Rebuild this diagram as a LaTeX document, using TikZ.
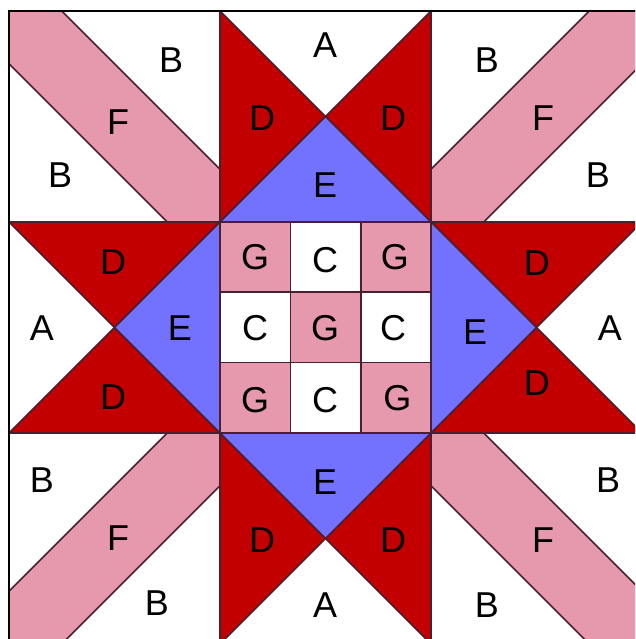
\documentclass[tikz,border=0pt]{standalone}
\usepackage{fontspec}
\setmainfont{Liberation Sans}
\usepackage{tikz}
\definecolor{QuiltRed}{HTML}{C20000}
\definecolor{QuiltBlue}{HTML}{7272FF}
\definecolor{QuiltPink}{HTML}{E698AC}
\definecolor{QuiltEdge}{HTML}{4A2030}

\begin{document}
\begin{tikzpicture}[x=2cm,y=-2cm]
  \tikzstyle{piece}=[draw=QuiltEdge,line width=0.45pt,line join=round]
  \tikzstyle{red}=[piece,fill=QuiltRed]
  \tikzstyle{blue}=[piece,fill=QuiltBlue]
  \tikzstyle{pink}=[piece,fill=QuiltPink]
  \tikzstyle{lbl}=[inner sep=0pt,text=black,
    font=\fontsize{9.7}{11}\selectfont]
  \useasboundingbox (-0.0427,-0.0521) rectangle (2.9668,2.9763);
  \clip (-0.0427,-0.0521) rectangle (2.9668,2.9763);
  \fill[white] (0,0) rectangle (3,3);
  % corner stripes
  \filldraw[pink] (0,0)--(0.25,0)--(1,0.75)--(1,1)--(0.75,1)--(0,0.25)--cycle;
  \filldraw[pink] (2,1)--(2,0.75)--(2.75,0)--(3,0)--(3,0.25)--(2.25,1)--cycle;
  \filldraw[pink] (1,2)--(1,2.25)--(0.25,3)--(0,3)--(0,2.75)--(0.75,2)--cycle;
  \filldraw[pink] (2,2)--(2.25,2)--(3,2.75)--(3,3)--(2.75,3)--(2,2.25)--cycle;
  % star points, top and bottom
  \filldraw[red] (1,0)--(1.5,0.5)--(1,1)--cycle;
  \filldraw[red] (2,0)--(2,1)--(1.5,0.5)--cycle;
  \filldraw[blue] (1,1)--(2,1)--(1.5,0.5)--cycle;
  \filldraw[red] (1,3)--(1.5,2.5)--(1,2)--cycle;
  \filldraw[red] (2,3)--(2,2)--(1.5,2.5)--cycle;
  \filldraw[blue] (1,2)--(2,2)--(1.5,2.5)--cycle;
  % star points, left and right
  \filldraw[red] (0,1)--(1,1)--(0.5,1.5)--cycle;
  \filldraw[red] (0,2)--(1,2)--(0.5,1.5)--cycle;
  \filldraw[blue] (1,1)--(1,2)--(0.5,1.5)--cycle;
  \filldraw[red] (3,1)--(2,1)--(2.5,1.5)--cycle;
  \filldraw[red] (3,2)--(2,2)--(2.5,1.5)--cycle;
  \filldraw[blue] (2,1)--(2,2)--(2.5,1.5)--cycle;
  \draw[piece] (1,0)--(2,0) (0,1)--(0,2);
  % centre nine-patch
  \foreach \i in {0,1,2} {
    \foreach \j in {0,1,2} {
      \pgfmathtruncatemacro{\odd}{mod(\i+\j,2)}
      \ifnum\odd=0
        \filldraw[pink] ({1+\i/3},{1+\j/3}) rectangle ++(1/3,1/3);
      \else
        \filldraw[piece,fill=white] ({1+\i/3},{1+\j/3}) rectangle ++(1/3,1/3);
      \fi
    }
  }
  \draw[black,line width=0.7pt] (0,0) rectangle (3,3);
  % labels
  \node[lbl] (tlB1) at (0.768,0.232) {B};
  \node[lbl] (tlF) at (0.517,0.526) {F};
  \node[lbl] (tlB2) at (0.242,0.777) {B};
  \node[lbl] (tA) at (1.498,0.161) {A};
  \node[lbl] (tD1) at (1.199,0.507) {D};
  \node[lbl] (tD2) at (1.820,0.507) {D};
  \node[lbl] (tE) at (1.498,0.825) {E};
  \node[lbl] (trB1) at (2.265,0.232) {B};
  \node[lbl] (trF) at (2.531,0.507) {F};
  \node[lbl] (trB2) at (2.791,0.777) {B};
  \node[lbl] (lD1) at (0.493,1.190) {D};
  \node[lbl] (lA) at (0.156,1.502) {A};
  \node[lbl] (lE) at (0.810,1.502) {E};
  \node[lbl] (lD2) at (0.493,1.829) {D};
  \node[lbl] (cG1) at (1.166,1.166) {G};
  \node[lbl] (cC1) at (1.498,1.180) {C};
  \node[lbl] (cG2) at (1.829,1.166) {G};
  \node[lbl] (cC2) at (1.166,1.502) {C};
  \node[lbl] (cG3) at (1.498,1.502) {G};
  \node[lbl] (cC3) at (1.820,1.502) {C};
  \node[lbl] (cG4) at (1.166,1.844) {G};
  \node[lbl] (cC4) at (1.498,1.844) {C};
  \node[lbl] (cG5) at (1.840,1.835) {G};
  \node[lbl] (rD1) at (2.502,1.194) {D};
  \node[lbl] (rE) at (2.209,1.521) {E};
  \node[lbl] (rA) at (2.848,1.502) {A};
  \node[lbl] (rD2) at (2.502,1.763) {D};
  \node[lbl] (blB1) at (0.156,2.223) {B};
  \node[lbl] (blF) at (0.517,2.498) {F};
  \node[lbl] (blB2) at (0.701,2.806) {B};
  \node[lbl] (bE) at (1.498,2.232) {E};
  \node[lbl] (bD1) at (1.199,2.507) {D};
  \node[lbl] (bD2) at (1.820,2.507) {D};
  \node[lbl] (bA) at (1.498,2.815) {A};
  \node[lbl] (brB1) at (2.839,2.223) {B};
  \node[lbl] (brF) at (2.531,2.507) {F};
  \node[lbl] (brB2) at (2.265,2.815) {B};
\end{tikzpicture}
\end{document}
